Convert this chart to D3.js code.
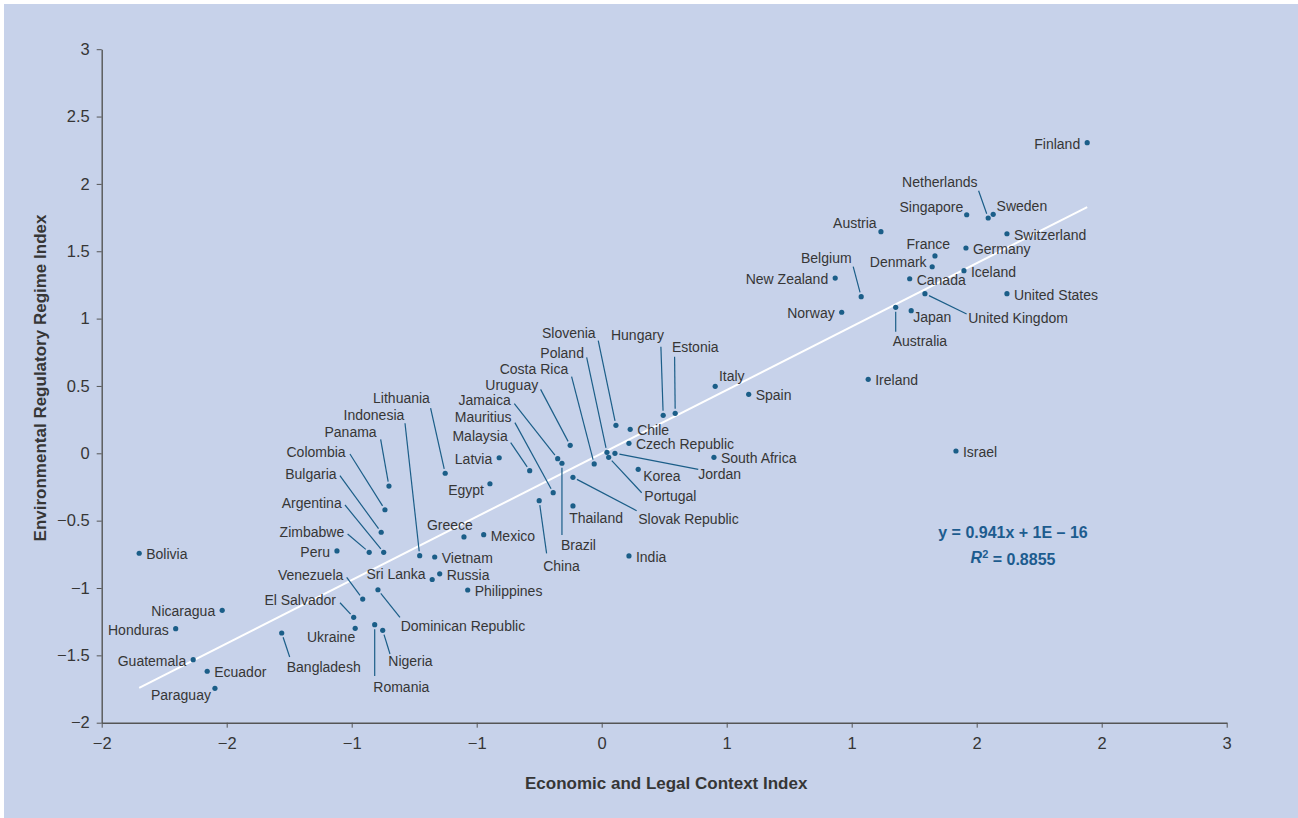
<!DOCTYPE html>
<html>
<head>
<meta charset="utf-8">
<script src="https://cdn.jsdelivr.net/npm/d3@7"></script>
<style>
  body { margin: 0; background: #fff; }
  svg text { font-family: "Liberation Sans", Arial, sans-serif; }
</style>
</head>
<body>
<div id="chart"></div>
<script>
// values
var countries = ["Bolivia","Nicaragua","Honduras","Guatemala","Ecuador","Paraguay","Bangladesh","Peru","Zimbabwe","Argentina",
  "Bulgaria","Colombia","Panama","Indonesia","Lithuania","Greece","Vietnam","Russia","Sri Lanka","Venezuela",
  "El Salvador","Ukraine","Dominican Republic","Romania","Nigeria","Latvia","Egypt","Malaysia","Mauritius","Jamaica",
  "Brazil","Uruguay","Costa Rica","Poland","Slovenia","Portugal","Jordan","Chile","Czech Republic","Korea",
  "Slovak Republic","Thailand","China","Mexico","India","Philippines","Hungary","Estonia","Italy","Spain",
  "South Africa","Finland","Netherlands","Sweden","Singapore","Austria","Switzerland","Germany","France","Denmark",
  "Iceland","Canada","Belgium","New Zealand","United States","United Kingdom","Australia","Japan","Norway","Ireland",
  "Israel"];

var economicIndex = [-1.850,-1.518,-1.704,-1.634,-1.578,-1.547,-1.280,-1.059,-0.930,-0.872,
  -0.882,-0.867,-0.851,-0.728,-0.626,-0.551,-0.668,-0.648,-0.678,-0.956,
  -0.992,-0.986,-0.895,-0.908,-0.876,-0.410,-0.447,-0.288,-0.194,-0.176,
  -0.159,-0.126,-0.030,0.021,0.057,0.028,0.053,0.114,0.109,0.146,
  -0.115,-0.115,-0.250,-0.472,0.109,-0.536,0.246,0.294,0.454,0.588,
  0.449,1.942,1.546,1.566,1.460,1.117,1.621,1.457,1.333,1.322,
  1.449,1.232,1.038,0.934,1.621,1.293,1.176,1.238,0.960,1.066,
  1.417];

var regulatoryIndex = [-0.742,-1.166,-1.302,-1.532,-1.618,-1.745,-1.334,-0.725,-0.735,-0.735,
  -0.586,-0.419,-0.243,-0.760,-0.148,-0.621,-0.770,-0.895,-0.937,-1.082,
  -1.218,-1.299,-1.013,-1.272,-1.314,-0.033,-0.226,-0.129,-0.292,-0.040,
  -0.074,0.059,-0.079,0.007,0.208,-0.030,0.000,0.178,0.074,-0.119,
  -0.178,-0.391,-0.352,-0.604,-0.762,-1.015,0.282,0.297,0.497,0.438,
  -0.030,2.306,1.747,1.774,1.771,1.645,1.630,1.524,1.465,1.385,
  1.356,1.296,1.163,1.301,1.185,1.185,1.084,1.059,1.047,0.549,
  0.017];

var xTickValues = [-2,-1.5,-1,-0.5,0,0.5,1,1.5,2,2.5];
var xTickLabels = ["\u22122","\u22122","\u22121","\u22121","0","1","1","2","2","3"];
var yTickValues = [-2,-1.5,-1,-0.5,0,0.5,1,1.5,2,2.5,3];
var yTickLabels = ["\u22122","\u22121.5","\u22121","\u22120.5","0","0.5","1","1.5","2","2.5","3"];

var slope = 0.941, intercept = 1e-16, rSquared = 0.8855;

// label placement: r = right of dot, l = left of dot, otherwise [anchor, dx, dy, leaderX, leaderY]
var placement = {
  "Bolivia":"r","Nicaragua":"l","Honduras":"l","Guatemala":"l","Ecuador":"r",
  "Paraguay":["end",-4,7],
  "Bangladesh":["middle",42,34,8,24],
  "Peru":"l",
  "Zimbabwe":["end",-25,-20,-21.6,-18.3],
  "Argentina":["end",-42,-49,-38.7,-47.3],
  "Bulgaria":["end",-44.6,-58,-41.3,-56.6],
  "Colombia":["end",-39.3,-58,-35,-55.7],
  "Panama":["end",-12.3,-54.3,-8.3,-46.7],
  "Indonesia":["end",-15.4,-140.7,-14.7,-132.4],
  "Lithuania":["end",-15.3,-75,-14.6,-65],
  "Greece":["middle",-14,-12],
  "Vietnam":"r","Russia":"r",
  "Sri Lanka":["end",-6.6,-6],
  "Venezuela":["end",-19.4,-24,-16,-21.7],
  "El Salvador":["end",-17.7,-17.3,-13.7,-14.6],
  "Ukraine":["end",0,9],
  "Dominican Republic":["start",22.7,36.3,22,27.6],
  "Romania":["start",-1.4,62,0,51.3],
  "Nigeria":["start",5.6,30.4,7.3,23.7],
  "Latvia":"l",
  "Egypt":["end",-6,6],
  "Malaysia":["end",-22,-34.7,-19,-28],
  "Mauritius":["end",-41.6,-75.4,-38.3,-70],
  "Jamaica":["end",-47,-58.7,-43.4,-55],
  "Brazil":["start",-1,81.7,0,71.7],
  "Uruguay":["end",-32,-60.3,-29.6,-56],
  "Costa Rica":["end",-26,-95,-22.6,-87.3],
  "Poland":["end",-23,-99.6,-20.3,-95],
  "Slovenia":["end",-20.3,-92,-17.7,-84.6],
  "Portugal":["start",35.6,38.7,33,35.4],
  "Jordan":["start",83.3,20.7,83.3,16],
  "Chile":"r","Czech Republic":"r",
  "Korea":["start",5,6.4],
  "Slovak Republic":["start",65.3,41.7,63.7,33.4],
  "Thailand":["start",-3.7,12.3],
  "China":["start",4,65,7.4,52.6],
  "Mexico":"r","India":"r","Philippines":"r",
  "Hungary":["end",0.7,-80.3,-2.3,-68.6],
  "Estonia":["start",-3.3,-66,-0.6,-56.6],
  "Italy":["start",3.7,-10.3],
  "Spain":"r","South Africa":"r",
  "Finland":"l",
  "Netherlands":["end",-10.6,-36,-9.6,-27.3],
  "Sweden":["start",3.4,-8],
  "Singapore":["end",-3.4,-8],
  "Austria":["end",-4.3,-8.4],
  "Switzerland":"r","Germany":"r",
  "France":["middle",-6.7,-12],
  "Denmark":["end",-5.6,-4.4],
  "Iceland":"r","Canada":"r",
  "Belgium":["end",-9.6,-39,-8,-30],
  "New Zealand":"l","United States":"r",
  "United Kingdom":["start",43.3,24.6,41.7,20.3],
  "Australia":["start",-3,33.7,0,24.4],
  "Japan":["start",2,6.6],
  "Norway":"l","Ireland":"r","Israel":"r"
};

var width = 1298, height = 818;
var margin = { top: 49.2, right: 71.3, bottom: 95.3, left: 101.7 };

var svg = d3.select("#chart").append("svg")
  .attr("width", width)
  .attr("height", height);

svg.append("rect")
  .attr("x", 4).attr("y", 4)
  .attr("width", width - 4).attr("height", height - 4)
  .attr("fill", "#c7d2ea");

var x = d3.scaleLinear().domain([-2, 2.5]).range([margin.left, width - margin.right]);
var y = d3.scaleLinear().domain([-2, 3]).range([height - margin.bottom, margin.top]);

var ink = "#363636", dotColor = "#1b5e88";

// axes
var xAxis = svg.append("g")
  .attr("transform", "translate(0," + y(-2) + ")")
  .call(d3.axisBottom(x).tickValues(xTickValues)
    .tickFormat(function(d, i) { return xTickLabels[i]; })
    .tickSize(5).tickSizeOuter(0).tickPadding(10));

var yAxis = svg.append("g")
  .attr("transform", "translate(" + x(-2) + ",0)")
  .call(d3.axisLeft(y).tickValues(yTickValues)
    .tickFormat(function(d, i) { return yTickLabels[i]; })
    .tickSize(5).tickSizeOuter(0).tickPadding(7));

[xAxis, yAxis].forEach(function(a) {
  a.select(".domain").attr("stroke", "#555").attr("stroke-width", 1.4);
  a.selectAll(".tick line").attr("stroke", "#555");
  a.selectAll(".tick text").attr("fill", ink)
    .style("font-size", "16.5px");
});

// regression line over the data range
var xMin = d3.min(economicIndex), xMax = d3.max(economicIndex);
svg.append("line")
  .attr("x1", x(xMin)).attr("y1", y(slope * xMin + intercept))
  .attr("x2", x(xMax)).attr("y2", y(slope * xMax + intercept))
  .attr("stroke", "#fff")
  .attr("stroke-width", 2);

var points = countries.map(function(c, i) {
  return { name: c, ex: economicIndex[i], reg: regulatoryIndex[i] };
});

// leader lines
var leaders = svg.append("g").attr("class", "leaders");
points.forEach(function(p) {
  var pl = placement[p.name];
  if (!Array.isArray(pl) || pl.length < 5) return;
  var cx = x(p.ex), cy = y(p.reg);
  var lx = pl[3], ly = pl[4];
  var len = Math.sqrt(lx * lx + ly * ly);
  leaders.append("line")
    .attr("x1", cx + lx / len * 4.5).attr("y1", cy + ly / len * 4.5)
    .attr("x2", cx + lx).attr("y2", cy + ly)
    .attr("stroke", dotColor)
    .attr("stroke-width", 1.2);
});

// dots
svg.append("g").selectAll("circle")
  .data(points).enter().append("circle")
  .attr("cx", function(d) { return x(d.ex); })
  .attr("cy", function(d) { return y(d.reg); })
  .attr("r", 2.6)
  .attr("fill", dotColor);

// labels
svg.append("g").selectAll("text")
  .data(points).enter().append("text")
  .attr("x", function(d) {
    var pl = placement[d.name];
    if (pl == "r") return x(d.ex) + 7;
    if (pl == "l") return x(d.ex) - 7;
    return x(d.ex) + pl[1];
  })
  .attr("y", function(d) {
    var pl = placement[d.name];
    if (pl == "r" || pl == "l") return y(d.reg) + 1;
    return y(d.reg) + pl[2];
  })
  .attr("dy", "0.36em")
  .attr("text-anchor", function(d) {
    var pl = placement[d.name];
    if (pl == "r") return "start";
    if (pl == "l") return "end";
    return pl[0];
  })
  .attr("fill", ink)
  .style("font-size", "14px")
  .text(function(d) { return d.name; });

// equation
var eq = svg.append("g").attr("fill", "#1d5c8f")
  .style("font-size", "16px").style("font-weight", "bold");
eq.append("text")
  .attr("x", 1013).attr("y", 532).attr("dy", "0.36em")
  .attr("text-anchor", "middle")
  .text("y = " + slope + "x + 1E \u2013 16");
var r2 = eq.append("text")
  .attr("x", 1013).attr("y", 557).attr("dy", "0.36em")
  .attr("text-anchor", "middle");
r2.append("tspan").style("font-style", "italic").text("R");
r2.append("tspan").attr("dy", "-0.4em").style("font-size", "11px").text("2");
r2.append("tspan").attr("dy", "0.4em").text(" = " + rSquared);

// axis titles
svg.append("text")
  .attr("x", (x(-2) + x(2.5)) / 2 + 2).attr("y", 783).attr("dy", "0.36em")
  .attr("text-anchor", "middle")
  .attr("fill", ink)
  .style("font-size", "17px").style("font-weight", "bold")
  .text("Economic and Legal Context Index");

svg.append("text")
  .attr("transform", "translate(40," + 378 + ") rotate(-90)")
  .attr("dy", "0.36em")
  .attr("text-anchor", "middle")
  .attr("fill", ink)
  .style("font-size", "17px").style("font-weight", "bold")
  .text("Environmental Regulatory Regime Index");
</script>
</body>
</html>
